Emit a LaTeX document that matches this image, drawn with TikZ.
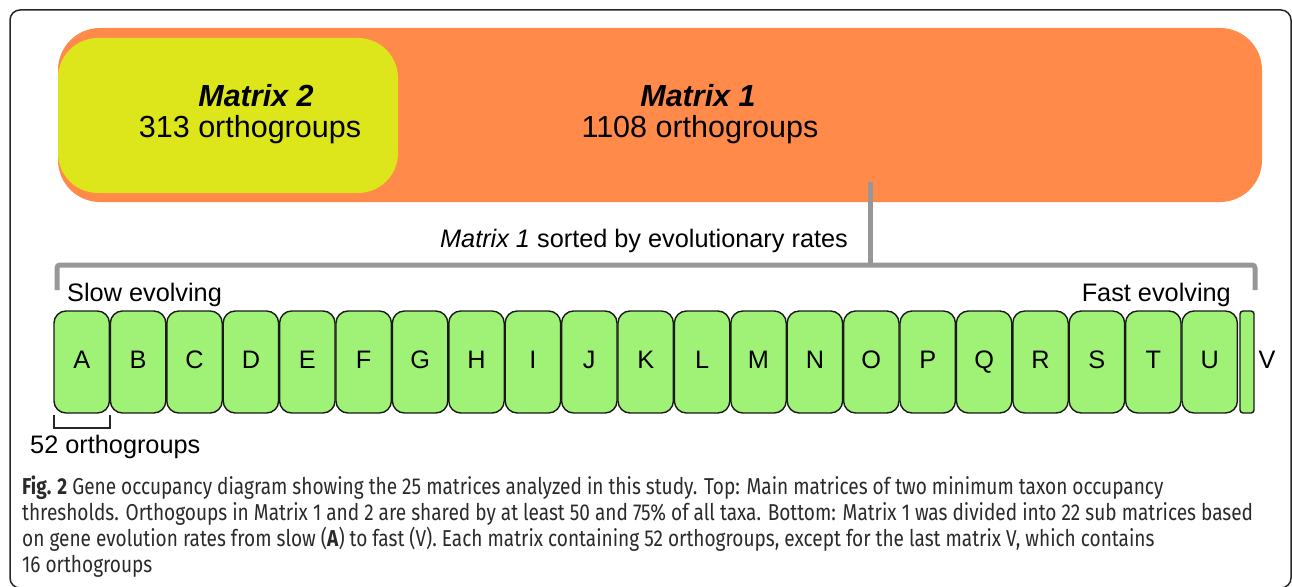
\documentclass[tikz,border=0pt]{standalone}
\usepackage{fontspec}
\setmainfont{Liberation Sans}
\newfontfamily\capfont[FakeStretch=0.828]{Fira Sans}
\definecolor{matone}{HTML}{FF8A4A}
\definecolor{mattwo}{HTML}{DCE61A}
\definecolor{subgreen}{HTML}{9FF276}
\definecolor{linkgray}{HTML}{979797}
\definecolor{captext}{HTML}{2A2A2A}
\tikzset{
  blockbox/.style={inner sep=0pt, outer sep=0pt, anchor=north west},
  subbox/.style={draw=black!90, line width=1.4pt, fill=subgreen, rounded corners=12pt,
    inner sep=0pt, outer sep=0pt, anchor=north west, minimum height=102pt},
  bigtxt/.style={inner sep=0pt, anchor=base, font=\fontsize{30.5}{36}\selectfont},
  midtxt/.style={inner sep=0pt, anchor=base, font=\fontsize{25.3}{30}\selectfont},
  captxt/.style={inner sep=0pt, anchor=base west, text=captext, font=\capfont\fontsize{23}{26}\selectfont},
  link/.style={draw=linkgray, line width=5pt},
}
\begin{document}
\begin{tikzpicture}[x=1pt,y=-1pt]
\useasboundingbox (0,0) rectangle (1292,586);
% outer frame
\draw[line width=1.5pt, black!85, rounded corners=10pt] (10,10) rectangle (1291,588);

% main matrices
\node[blockbox, fill=matone, rounded corners=42pt, minimum width=1204pt, minimum height=174pt] (m1) at (58,28) {};
\node[blockbox, fill=mattwo, rounded corners=40pt, minimum width=340pt, minimum height=155pt] (m2) at (58,38) {};
\node[bigtxt] (m2name) at (256,106) {\bfseries\itshape Matrix 2};
\node[bigtxt] (m2count) at (250,137) {313 orthogroups};
\node[bigtxt] (m1name) at (698,106) {\bfseries\itshape Matrix 1};
\node[bigtxt] (m1count) at (700,137) {1108 orthogroups};

% sorting bracket
\coordinate (stem) at (870,182);
\coordinate (join) at (870,265);
\coordinate (lefttop) at (57,265);
\coordinate (leftend) at (57,290);
\coordinate (righttop) at (1255,265);
\coordinate (rightend) at (1255,290);
\draw[link] (stem) -- (join);
\draw[link, rounded corners=3pt] (leftend) -- (lefttop) -- (righttop) -- (rightend);
\node[midtxt] (sorted) at (644,247) {\itshape Matrix 1\upshape{} sorted by evolutionary rates};
\node[midtxt, anchor=base west] (slow) at (67,301) {Slow evolving};
\node[midtxt, anchor=base east] (fast) at (1231,301) {Fast evolving};

% sub matrices A to U
\foreach \l [count=\i from 0] in {A,B,C,D,E,F,G,H,I,J,K,L,M,N,O,P,Q,R,S,T,U} {
  \node[subbox, minimum width=55.4pt] (sub\l) at ({54+\i*56.4},311) {};
  \node[midtxt] (lab\l) at ({54+\i*56.4+27.7},368) {\l};
}
% last sub matrix V
\node[subbox, minimum width=14pt, rounded corners=3pt] (subV) at (1240,311) {};
\node[midtxt] (labV) at (1267,368) {V};

% size bracket under A
\coordinate (ba) at (54,415);
\coordinate (bb) at (54,428);
\coordinate (bc) at (110,428);
\coordinate (bd) at (110,415);
\draw[line width=1.4pt, black!85] (ba) -- (bb) -- (bc) -- (bd);
\node[midtxt, anchor=base west] (size) at (30,453) {52 orthogroups};

% caption
\node[captxt] (cap1) at (22,494) {\textbf{Fig. 2} Gene occupancy diagram showing the 25 matrices analyzed in this study. Top: Main matrices of two minimum taxon occupancy};
\node[captxt] (cap2) at (22,520) {thresholds. Orthogoups in Matrix 1 and 2 are shared by at least 50 and 75\% of all taxa. Bottom: Matrix 1 was divided into 22 sub matrices based};
\node[captxt] (cap3) at (22,546) {on gene evolution rates from slow (\textbf{A}) to fast (V). Each matrix containing 52 orthogroups, except for the last matrix V, which contains};
\node[captxt] (cap4) at (22,572) {16 orthogroups};
\end{tikzpicture}
\end{document}
